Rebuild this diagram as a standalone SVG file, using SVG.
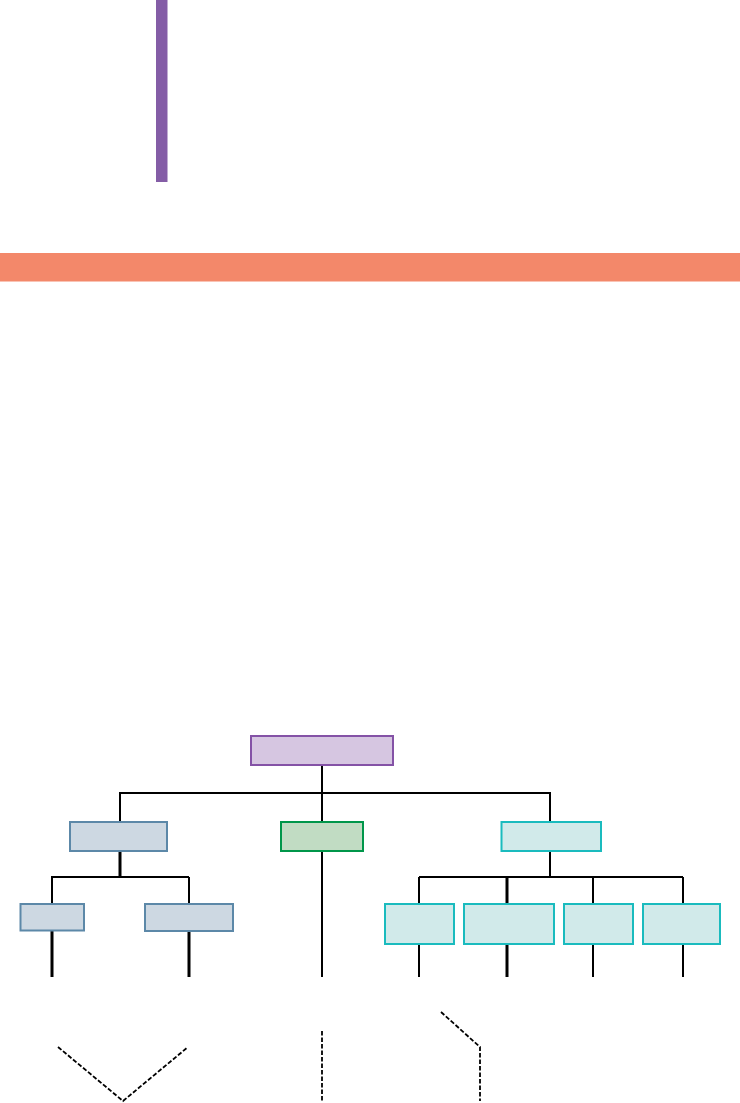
<svg xmlns="http://www.w3.org/2000/svg" width="740" height="1103" viewBox="0 0 740 1103">
<style>
.ln{stroke:#000;stroke-width:2;fill:none}
.ln3{stroke:#000;stroke-width:3;fill:none}
.dash{stroke:#000;stroke-width:1.8;fill:none;stroke-dasharray:4.5 2}
.root{fill:#D6C6E1;stroke:#8452A6;stroke-width:2}
.blue{fill:#CDD8E2;stroke:#5C88A8;stroke-width:2}
.green{fill:#C1DCC3;stroke:#00964A;stroke-width:2}
.teal{fill:#D1EAEA;stroke:#1ABBBE;stroke-width:2}
</style>
<rect x="0" y="0" width="740" height="1103" fill="#fff"/>
<rect id="accent-bar" x="156" y="0" width="11.5" height="182" fill="#845DA6"/>
<rect id="header-band" x="0" y="253" width="740" height="28.5" fill="#F3886A"/>
<g id="connectors">
<path class="ln" d="M322 765V793M119 793H551M120 793V822M322 793V822M550 793V822"/>
<path class="ln3" d="M120 851V877"/>
<path class="ln" d="M51 877H189M52 877V904M189 877V904"/>
<path class="ln3" d="M52 930V977M189 931V977"/>
<path class="ln" d="M322 851V977"/>
<path class="ln" d="M550 851V877M419 877H683M419 877V904M593 877V904M683 877V904"/>
<path class="ln3" d="M507 877V904"/>
<path class="ln" d="M419 944V977M593 944V977M683 944V977"/>
<path class="ln3" d="M507 944V977"/>
<path class="dash" d="M58 1047L123 1101L188 1047"/>
<path class="dash" d="M322 1031V1101"/>
<path class="dash" d="M441 1012L480 1047V1101"/>
</g>
<g id="node-root"><rect class="root" x="251" y="736" width="142" height="29"/></g>
<g id="node-left"><rect class="blue" x="70" y="822" width="97" height="29"/></g>
<g id="node-middle"><rect class="green" x="281" y="822" width="82" height="29"/></g>
<g id="node-right"><rect class="teal" x="501.5" y="822" width="99.5" height="29"/></g>
<g id="node-left-1"><rect class="blue" x="20.5" y="904" width="63.5" height="26.5"/></g>
<g id="node-left-2"><rect class="blue" x="145" y="904" width="88" height="27"/></g>
<g id="node-right-1"><rect class="teal" x="385" y="904" width="69" height="40"/></g>
<g id="node-right-2"><rect class="teal" x="464" y="904" width="90" height="40"/></g>
<g id="node-right-3"><rect class="teal" x="564" y="904" width="69" height="40"/></g>
<g id="node-right-4"><rect class="teal" x="643" y="904" width="77" height="40"/></g>
</svg>
